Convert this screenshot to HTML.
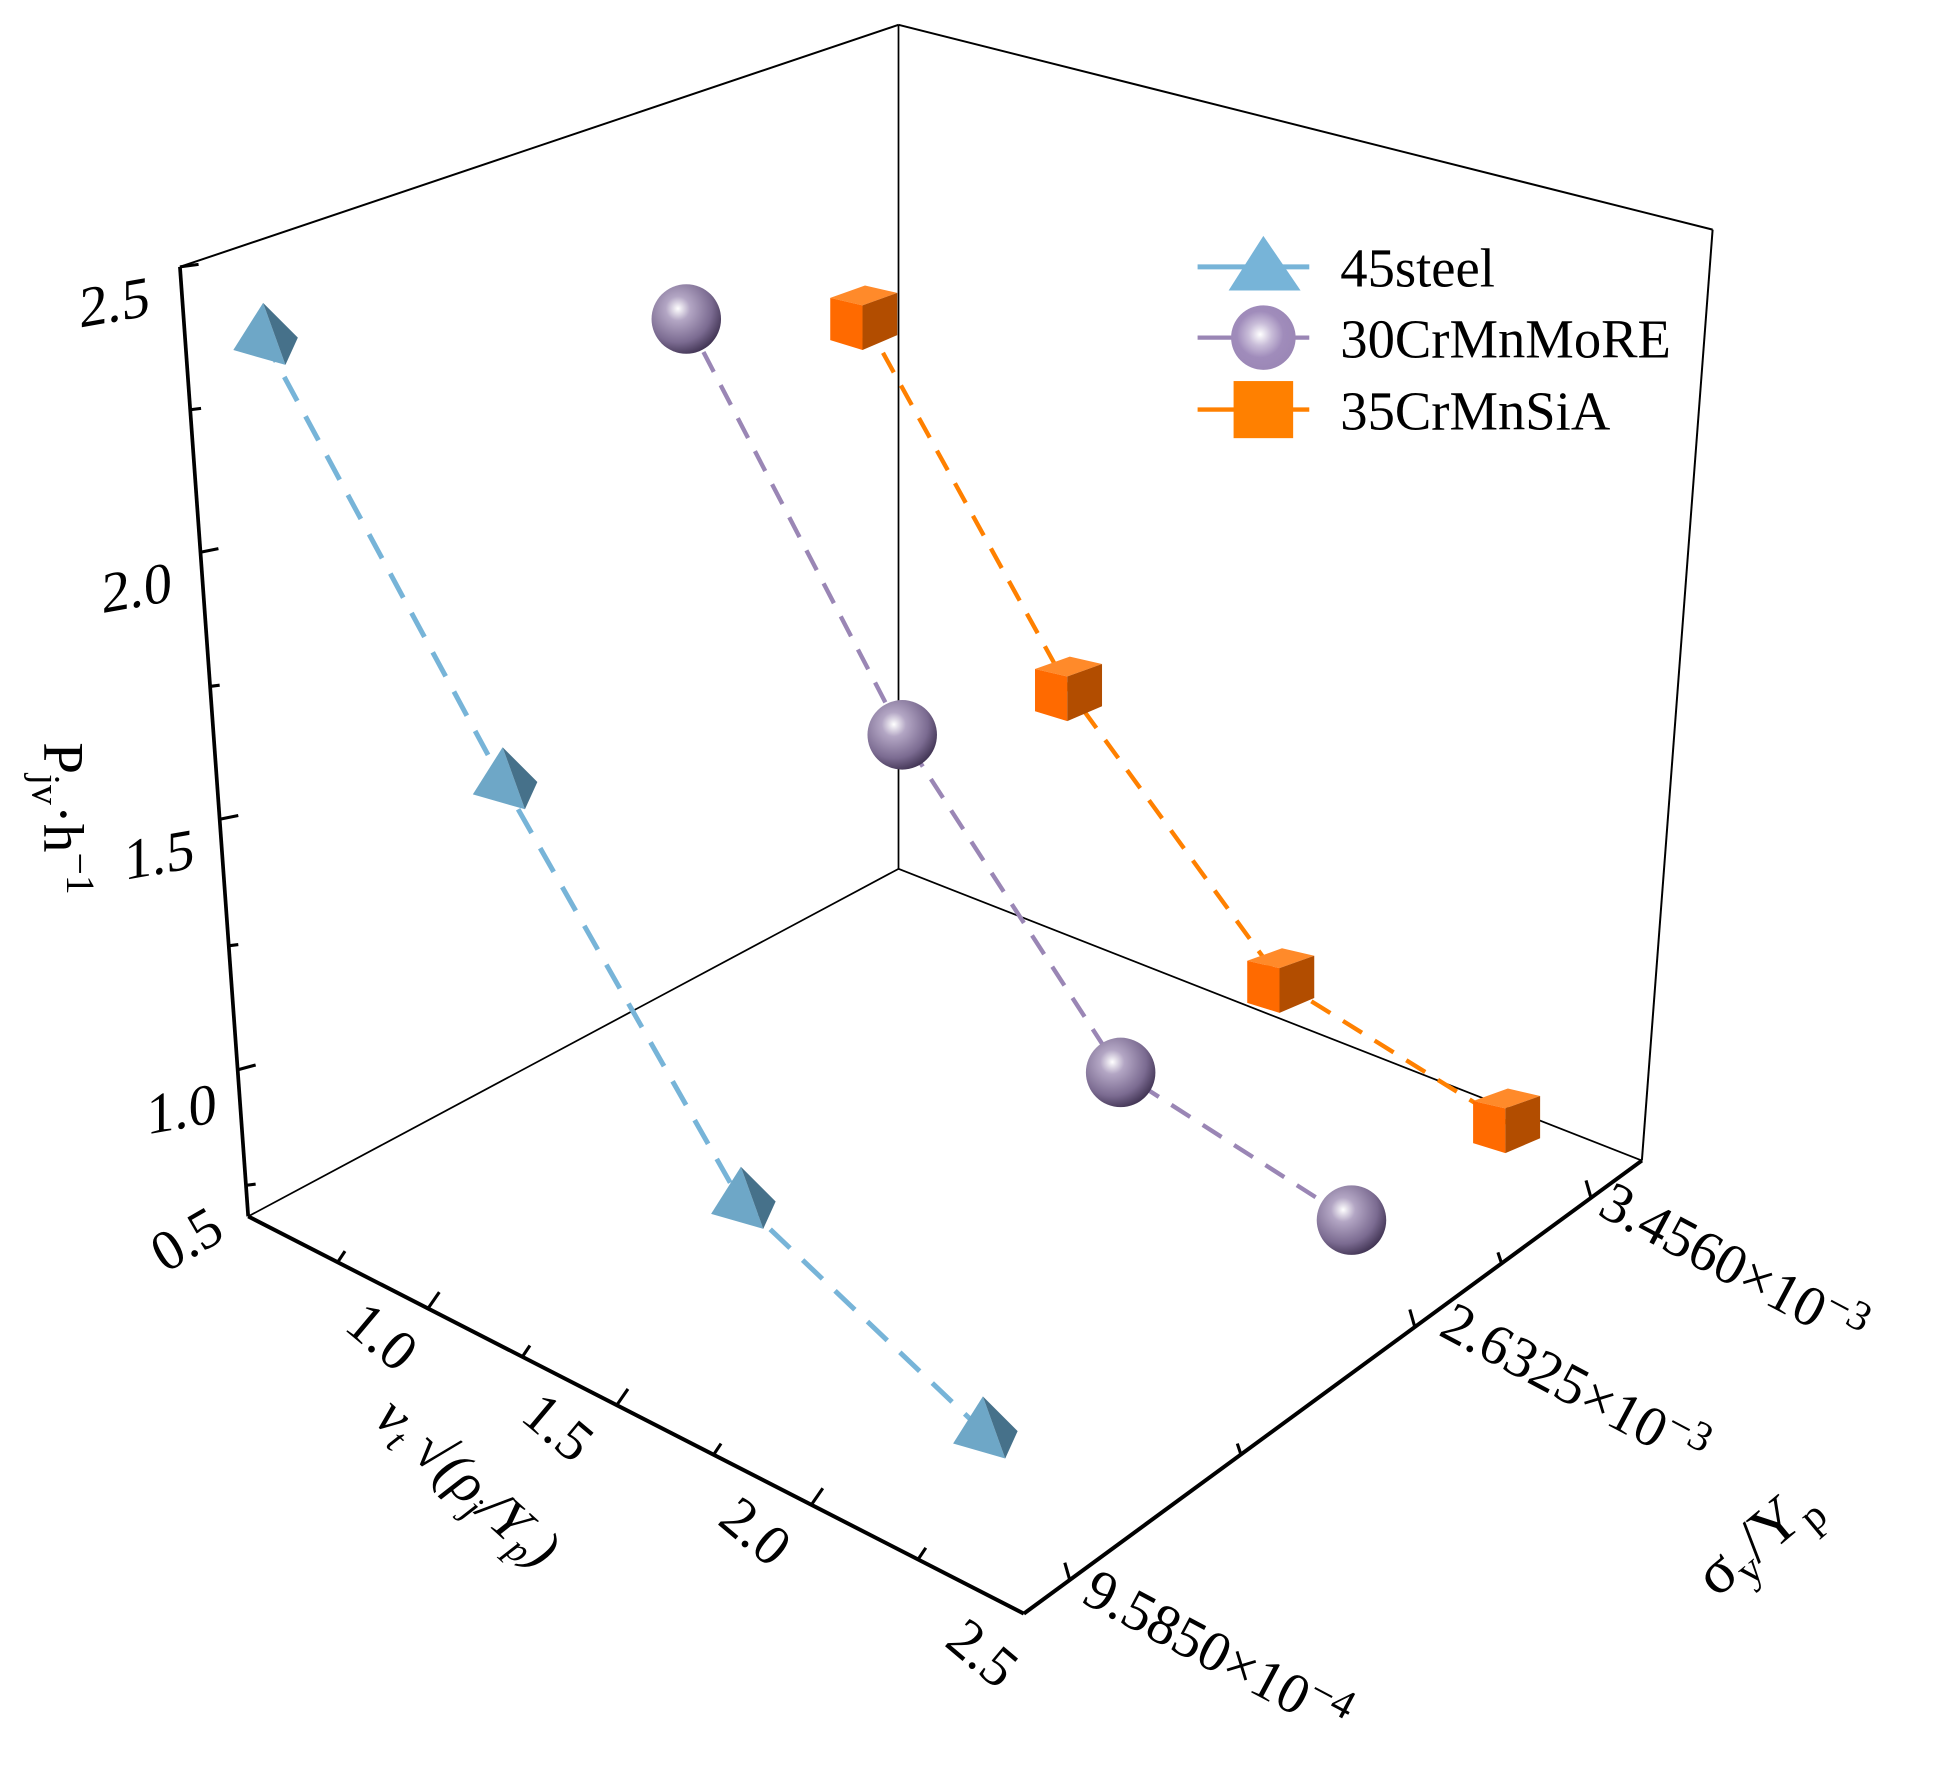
<!DOCTYPE html>
<html><head><meta charset="utf-8"><style>html,body{margin:0;padding:0;background:#fff}svg{display:block}</style></head>
<body>
<svg width="1936" height="1770" viewBox="0 0 1560 1426" preserveAspectRatio="none" xmlns="http://www.w3.org/2000/svg" font-family="'Liberation Serif',serif">
<defs>
<radialGradient id="sph" cx="0.38" cy="0.35" r="0.7">
<stop offset="0" stop-color="#ffffff"/><stop offset="0.25" stop-color="#b3a6c4"/><stop offset="0.7" stop-color="#7b6b91"/><stop offset="1" stop-color="#3e3150"/>
</radialGradient>
<radialGradient id="sphL" cx="0.45" cy="0.45" r="0.6">
<stop offset="0" stop-color="#ffffff"/><stop offset="0.3" stop-color="#c8bcd8"/><stop offset="0.6" stop-color="#a08cbb"/><stop offset="1" stop-color="#9a86b5"/>
</radialGradient>
<g id="cube">
<polygon points="-28,-18 0,-28 26,-22 -2,-12" fill="#ff8a2a"/>
<polygon points="-28,-18 -2,-12 -2,24 -28,16" fill="#ff6a00"/>
<polygon points="-2,-12 26,-22 26,12 -2,24" fill="#b24d00"/>
</g>
<g id="tet">
<polygon points="0,-28 -24,10 18,22" fill="#6ea7c7"/>
<polygon points="0,-28 18,22 28,0" fill="#46718a"/>
</g>
<g id="ball"><circle r="28" fill="url(#sph)"/></g>
</defs>
<g stroke="#000" fill="none">
<line x1="145" y1="215" x2="724" y2="20" stroke-width="1.6"/>
<line x1="724" y1="20" x2="1380" y2="185" stroke-width="1.6"/>
<line x1="724" y1="20" x2="724" y2="700" stroke-width="1.4"/>
<line x1="1380" y1="185" x2="1323" y2="935" stroke-width="1.6"/>
<line x1="200" y1="980" x2="724" y2="700" stroke-width="1.4"/>
<line x1="724" y1="700" x2="1323" y2="935" stroke-width="1.4"/>
<line x1="145" y1="215" x2="200" y2="980" stroke-width="3"/>
<line x1="200" y1="980" x2="825" y2="1300" stroke-width="3.2"/>
<line x1="825" y1="1300" x2="1323" y2="935" stroke-width="3.2"/>
<g stroke-width="2.5">
<line x1="145" y1="215" x2="160" y2="213"/>
<line x1="154" y1="330" x2="162" y2="329"/>
<line x1="161" y1="445" x2="176" y2="442"/>
<line x1="169" y1="553" x2="177" y2="552"/>
<line x1="177" y1="660" x2="192" y2="657"/>
<line x1="184" y1="762" x2="192" y2="761"/>
<line x1="191" y1="862" x2="206" y2="858"/>
<line x1="198" y1="955" x2="206" y2="954"/>
</g>
<g stroke-width="2.5">
<line x1="272" y1="1017" x2="278" y2="1008"/>
<line x1="345" y1="1054" x2="354" y2="1041"/>
<line x1="421" y1="1093" x2="427" y2="1084"/>
<line x1="497" y1="1132" x2="506" y2="1119"/>
<line x1="575" y1="1172" x2="581" y2="1163"/>
<line x1="654" y1="1212" x2="663" y2="1199"/>
<line x1="740" y1="1256" x2="746" y2="1247"/>
</g>
<g stroke-width="2.5">
<line x1="862" y1="1273" x2="858" y2="1259"/>
<line x1="1000" y1="1172" x2="997" y2="1163"/>
<line x1="1140" y1="1069" x2="1136" y2="1055"/>
<line x1="1210" y1="1018" x2="1207" y2="1009"/>
<line x1="1282" y1="965" x2="1278" y2="951"/>
</g>
</g>
<g font-size="46" fill="#000">
<text transform="translate(64,264) rotate(-10) skewX(-10)">2.5</text>
<text transform="translate(82,494) rotate(-10) skewX(-10)">2.0</text>
<text transform="translate(100,709) rotate(-10) skewX(-10)">1.5</text>
<text transform="translate(118,914) rotate(-10) skewX(-10)">1.0</text>
<text transform="translate(133,1026) rotate(-30)">0.5</text>
<text transform="translate(276,1070) rotate(40)">1.0</text>
<text transform="translate(418,1143) rotate(40)">1.5</text>
<text transform="translate(577,1227) rotate(40)">2.0</text>
<text transform="translate(760,1325) rotate(40)">2.5</text>
<text transform="translate(870,1290) rotate(28)">9.5850×10<tspan dy="-16" font-size="34">−4</tspan></text>
<text transform="translate(1158,1075) rotate(28)">2.6325×10<tspan dy="-16" font-size="34">−3</tspan></text>
<text transform="translate(1286,978) rotate(28)">3.4560×10<tspan dy="-16" font-size="34">−3</tspan></text>
</g>
<g fill="#000" font-size="46">
<text transform="translate(36,598) rotate(90)">P<tspan dy="10" font-size="32">jv</tspan><tspan dy="-10">·h</tspan><tspan dy="-18" font-size="32">−1</tspan></text>
<text transform="translate(300,1145) rotate(42)" font-style="italic"><tspan>v</tspan><tspan dy="8" font-size="30">t</tspan><tspan dy="-8"> √(ρ</tspan><tspan dy="8" font-size="30">j</tspan><tspan dy="-8">/Y</tspan><tspan dy="8" font-size="30">p</tspan><tspan dy="-8">)</tspan></text>
<text transform="translate(1383,1288) rotate(-40)" font-size="50">σ<tspan dy="10" font-size="34">y</tspan><tspan dy="-10">/Y</tspan><tspan dy="10" font-size="34">p</tspan></text>
</g>
<polyline points="212,272 405,630 597,968 792,1153" fill="none" stroke="#77b4d8" stroke-width="4" stroke-dasharray="22,14"/>
<polyline points="553,257 727,592 903,864 1089,983" fill="none" stroke="#9a86b5" stroke-width="3.5" stroke-dasharray="18,12"/>
<polyline points="697,258 862,557 1033,792 1215,905" fill="none" stroke="#ff8000" stroke-width="3.5" stroke-dasharray="18,12"/>
<use href="#tet" x="212" y="272"/><use href="#tet" x="405" y="630"/><use href="#tet" x="597" y="968"/><use href="#tet" x="792" y="1153"/>
<use href="#ball" x="553" y="257"/><use href="#ball" x="727" y="592"/><use href="#ball" x="903" y="864"/><use href="#ball" x="1089" y="983"/>
<use href="#cube" x="697" y="258"/><use href="#cube" x="862" y="557"/><use href="#cube" x="1033" y="792"/><use href="#cube" x="1215" y="905"/>
<line x1="965" y1="215" x2="1055" y2="215" stroke="#77b4d8" stroke-width="4"/>
<polygon points="1018,190 990,234 1048,234" fill="#77b4d8"/>
<line x1="965" y1="272" x2="1055" y2="272" stroke="#9a86b5" stroke-width="3.5"/>
<circle cx="1018" cy="272" r="26" fill="url(#sphL)"/>
<line x1="965" y1="330" x2="1055" y2="330" stroke="#ff8000" stroke-width="3.5"/>
<rect x="994" y="307" width="48" height="46" fill="#ff8000"/>
<g font-size="44" fill="#000">
<text x="1080" y="231">45steel</text>
<text x="1080" y="288">30CrMnMoRE</text>
<text x="1080" y="346">35CrMnSiA</text>
</g>
</svg>
</body></html>
